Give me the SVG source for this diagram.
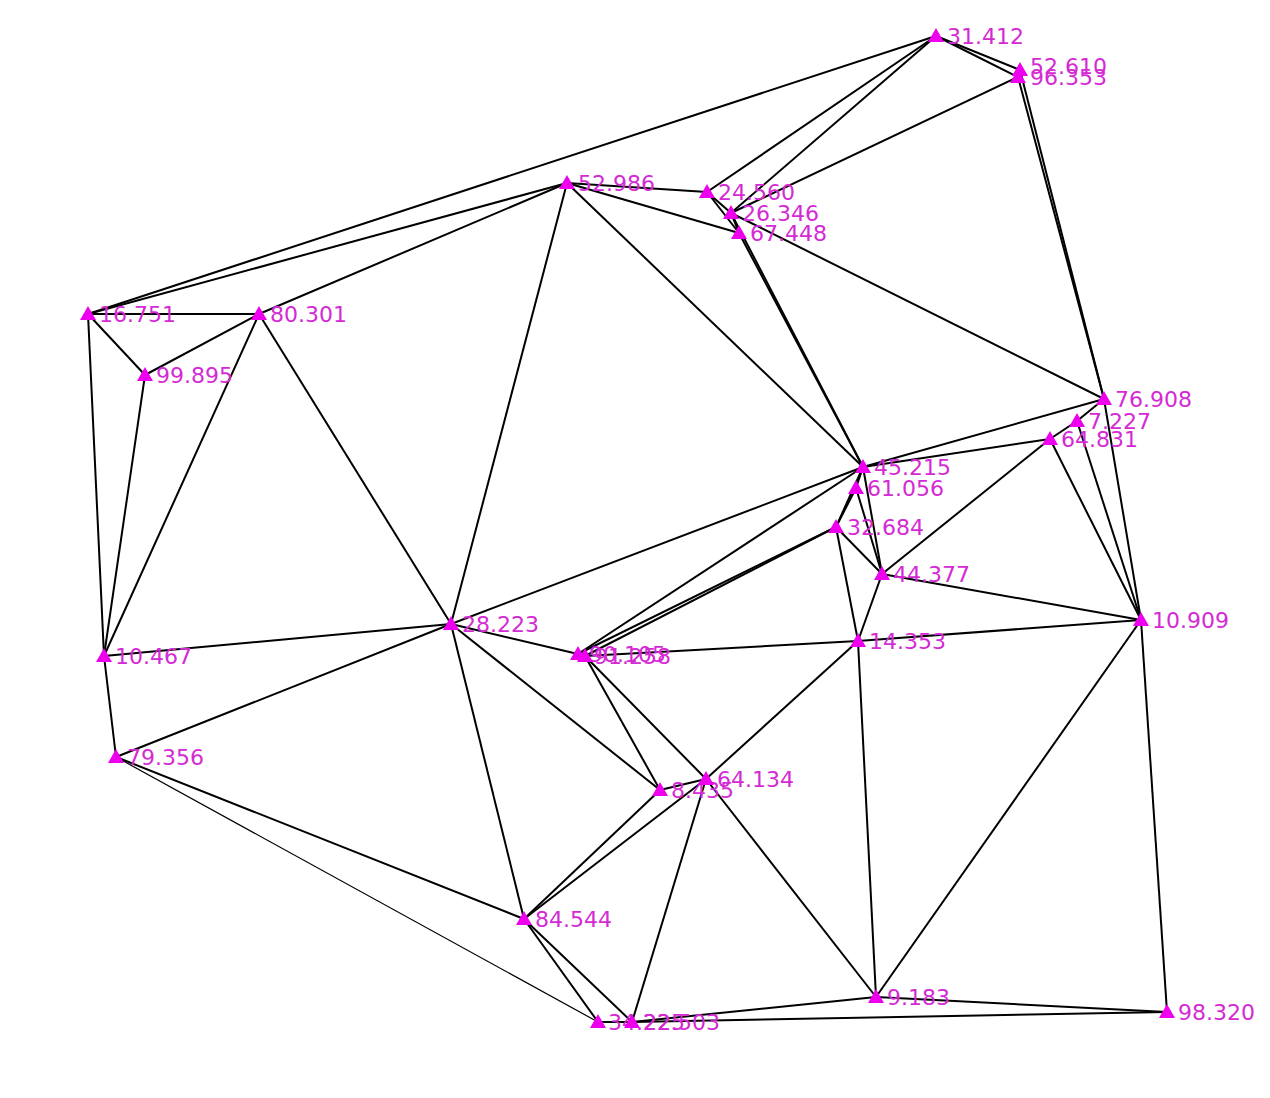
<svg xmlns="http://www.w3.org/2000/svg" xmlns:xlink="http://www.w3.org/1999/xlink" width="1270" height="1098" viewBox="0 0 1270 1098">
<style>
.e{stroke:#000;stroke-width:2;fill:none}
.t{stroke:#000;stroke-width:1.2;fill:none}
.lb{font-family:"DejaVu Sans","Verdana",sans-serif;font-size:22px;fill:#d42ad4}
.m{fill:#ee00ee}
</style>
<defs>
<path id="tri" d="M0,-8 L8,6 L-8,6 Z"/>
</defs>
<rect width="1270" height="1098" fill="#fff"/>
<g id="connectors">
<line class="e" x1="936" y1="36" x2="1020" y2="70"/>
<line class="e" x1="936" y1="36" x2="1018" y2="77"/>
<line class="e" x1="1020" y1="70" x2="1018" y2="77"/>
<line class="e" x1="936" y1="36" x2="88" y2="314"/>
<line class="e" x1="936" y1="36" x2="707" y2="192"/>
<line class="e" x1="936" y1="36" x2="731" y2="213"/>
<line class="e" x1="1018" y1="77" x2="731" y2="213"/>
<line class="e" x1="1020" y1="70" x2="1104" y2="399"/>
<line class="e" x1="1018" y1="77" x2="1104" y2="399"/>
<line class="e" x1="88" y1="314" x2="567" y2="183"/>
<line class="e" x1="88" y1="314" x2="259" y2="314"/>
<line class="e" x1="88" y1="314" x2="145" y2="375"/>
<line class="e" x1="88" y1="314" x2="104" y2="656"/>
<line class="e" x1="259" y1="314" x2="567" y2="183"/>
<line class="e" x1="259" y1="314" x2="145" y2="375"/>
<line class="e" x1="259" y1="314" x2="104" y2="656"/>
<line class="e" x1="259" y1="314" x2="451" y2="624"/>
<line class="e" x1="145" y1="375" x2="104" y2="656"/>
<line class="e" x1="104" y1="656" x2="451" y2="624"/>
<line class="e" x1="104" y1="656" x2="116" y2="757"/>
<line class="e" x1="116" y1="757" x2="451" y2="624"/>
<line class="e" x1="116" y1="757" x2="524" y2="919"/>
<line class="t" x1="116" y1="757" x2="598" y2="1022"/>
<line class="e" x1="451" y1="624" x2="567" y2="183"/>
<line class="e" x1="451" y1="624" x2="863" y2="467"/>
<line class="e" x1="451" y1="624" x2="578" y2="654"/>
<line class="e" x1="451" y1="624" x2="660" y2="790"/>
<line class="e" x1="451" y1="624" x2="524" y2="919"/>
<line class="e" x1="567" y1="183" x2="707" y2="192"/>
<line class="e" x1="567" y1="183" x2="739" y2="233"/>
<line class="e" x1="567" y1="183" x2="863" y2="467"/>
<line class="e" x1="707" y1="192" x2="731" y2="213"/>
<line class="e" x1="707" y1="192" x2="739" y2="233"/>
<line class="e" x1="731" y1="213" x2="739" y2="233"/>
<line class="e" x1="731" y1="213" x2="863" y2="467"/>
<line class="e" x1="739" y1="233" x2="863" y2="467"/>
<line class="e" x1="731" y1="213" x2="1104" y2="399"/>
<line class="e" x1="1104" y1="399" x2="863" y2="467"/>
<line class="e" x1="1104" y1="399" x2="1077" y2="421"/>
<line class="e" x1="1077" y1="421" x2="1050" y2="439"/>
<line class="e" x1="1050" y1="439" x2="863" y2="467"/>
<line class="e" x1="1104" y1="399" x2="1141" y2="620"/>
<line class="e" x1="1077" y1="421" x2="1141" y2="620"/>
<line class="e" x1="1050" y1="439" x2="1141" y2="620"/>
<line class="e" x1="1050" y1="439" x2="882" y2="574"/>
<line class="e" x1="863" y1="467" x2="856" y2="488"/>
<line class="e" x1="856" y1="488" x2="836" y2="527"/>
<line class="e" x1="863" y1="467" x2="836" y2="527"/>
<line class="e" x1="863" y1="467" x2="578" y2="654"/>
<line class="e" x1="836" y1="527" x2="578" y2="654"/>
<line class="e" x1="836" y1="527" x2="585" y2="656"/>
<line class="e" x1="578" y1="654" x2="585" y2="656"/>
<line class="e" x1="863" y1="467" x2="882" y2="574"/>
<line class="e" x1="856" y1="488" x2="882" y2="574"/>
<line class="e" x1="836" y1="527" x2="882" y2="574"/>
<line class="e" x1="836" y1="527" x2="858" y2="641"/>
<line class="e" x1="882" y1="574" x2="858" y2="641"/>
<line class="e" x1="882" y1="574" x2="1141" y2="620"/>
<line class="e" x1="858" y1="641" x2="585" y2="656"/>
<line class="e" x1="858" y1="641" x2="1141" y2="620"/>
<line class="e" x1="858" y1="641" x2="706" y2="779"/>
<line class="e" x1="858" y1="641" x2="876" y2="997"/>
<line class="e" x1="1141" y1="620" x2="876" y2="997"/>
<line class="e" x1="1141" y1="620" x2="1167" y2="1012"/>
<line class="e" x1="585" y1="656" x2="660" y2="790"/>
<line class="e" x1="585" y1="656" x2="706" y2="779"/>
<line class="e" x1="660" y1="790" x2="706" y2="779"/>
<line class="e" x1="660" y1="790" x2="524" y2="919"/>
<line class="e" x1="706" y1="779" x2="524" y2="919"/>
<line class="e" x1="706" y1="779" x2="632" y2="1022"/>
<line class="e" x1="706" y1="779" x2="876" y2="997"/>
<line class="e" x1="524" y1="919" x2="598" y2="1022"/>
<line class="e" x1="524" y1="919" x2="632" y2="1022"/>
<line class="e" x1="598" y1="1022" x2="632" y2="1022"/>
<line class="e" x1="632" y1="1022" x2="876" y2="997"/>
<line class="e" x1="632" y1="1022" x2="1167" y2="1012"/>
<line class="e" x1="876" y1="997" x2="1167" y2="1012"/>
</g>
<g id="n-31-412"><use href="#tri" class="m" x="936" y="36"/><text class="lb" x="947" y="44">31.412</text></g>
<g id="n-52-610"><use href="#tri" class="m" x="1020" y="70"/><text class="lb" x="1030" y="74">52.610</text></g>
<g id="n-96-353"><use href="#tri" class="m" x="1018" y="77"/><text class="lb" x="1030" y="85">96.353</text></g>
<g id="n-52-986"><use href="#tri" class="m" x="567" y="183"/><text class="lb" x="578" y="191">52.986</text></g>
<g id="n-24-560"><use href="#tri" class="m" x="707" y="192"/><text class="lb" x="718" y="200">24.560</text></g>
<g id="n-26-346"><use href="#tri" class="m" x="731" y="213"/><text class="lb" x="742" y="221">26.346</text></g>
<g id="n-67-448"><use href="#tri" class="m" x="739" y="233"/><text class="lb" x="750" y="241">67.448</text></g>
<g id="n-16-751"><use href="#tri" class="m" x="88" y="314"/><text class="lb" x="99" y="322">16.751</text></g>
<g id="n-80-301"><use href="#tri" class="m" x="259" y="314"/><text class="lb" x="270" y="322">80.301</text></g>
<g id="n-99-895"><use href="#tri" class="m" x="145" y="375"/><text class="lb" x="156" y="383">99.895</text></g>
<g id="n-76-908"><use href="#tri" class="m" x="1104" y="399"/><text class="lb" x="1115" y="407">76.908</text></g>
<g id="n-7-227"><use href="#tri" class="m" x="1077" y="421"/><text class="lb" x="1088" y="429">7.227</text></g>
<g id="n-64-831"><use href="#tri" class="m" x="1050" y="439"/><text class="lb" x="1061" y="447">64.831</text></g>
<g id="n-45-215"><use href="#tri" class="m" x="863" y="467"/><text class="lb" x="874" y="475">45.215</text></g>
<g id="n-61-056"><use href="#tri" class="m" x="856" y="488"/><text class="lb" x="867" y="496">61.056</text></g>
<g id="n-32-684"><use href="#tri" class="m" x="836" y="527"/><text class="lb" x="847" y="535">32.684</text></g>
<g id="n-44-377"><use href="#tri" class="m" x="882" y="574"/><text class="lb" x="893" y="582">44.377</text></g>
<g id="n-10-909"><use href="#tri" class="m" x="1141" y="620"/><text class="lb" x="1152" y="628">10.909</text></g>
<g id="n-28-223"><use href="#tri" class="m" x="451" y="624"/><text class="lb" x="462" y="632">28.223</text></g>
<g id="n-90-105"><use href="#tri" class="m" x="578" y="654"/><text class="lb" x="589" y="662">90.105</text></g>
<g id="n-91-258"><use href="#tri" class="m" x="585" y="656"/><text class="lb" x="594" y="664">91.258</text></g>
<g id="n-14-353"><use href="#tri" class="m" x="858" y="641"/><text class="lb" x="869" y="649">14.353</text></g>
<g id="n-10-467"><use href="#tri" class="m" x="104" y="656"/><text class="lb" x="115" y="664">10.467</text></g>
<g id="n-79-356"><use href="#tri" class="m" x="116" y="757"/><text class="lb" x="127" y="765">79.356</text></g>
<g id="n-8-435"><use href="#tri" class="m" x="660" y="790"/><text class="lb" x="671" y="798">8.435</text></g>
<g id="n-64-134"><use href="#tri" class="m" x="706" y="779"/><text class="lb" x="717" y="787">64.134</text></g>
<g id="n-84-544"><use href="#tri" class="m" x="524" y="919"/><text class="lb" x="535" y="927">84.544</text></g>
<g id="n-9-183"><use href="#tri" class="m" x="876" y="997"/><text class="lb" x="887" y="1005">9.183</text></g>
<g id="n-34-225"><use href="#tri" class="m" x="598" y="1022"/><text class="lb" x="608" y="1030">34.225</text></g>
<g id="n-22-503"><use href="#tri" class="m" x="632" y="1022"/><text class="lb" x="643" y="1030">22.503</text></g>
<g id="n-98-320"><use href="#tri" class="m" x="1167" y="1012"/><text class="lb" x="1178" y="1020">98.320</text></g>
</svg>
